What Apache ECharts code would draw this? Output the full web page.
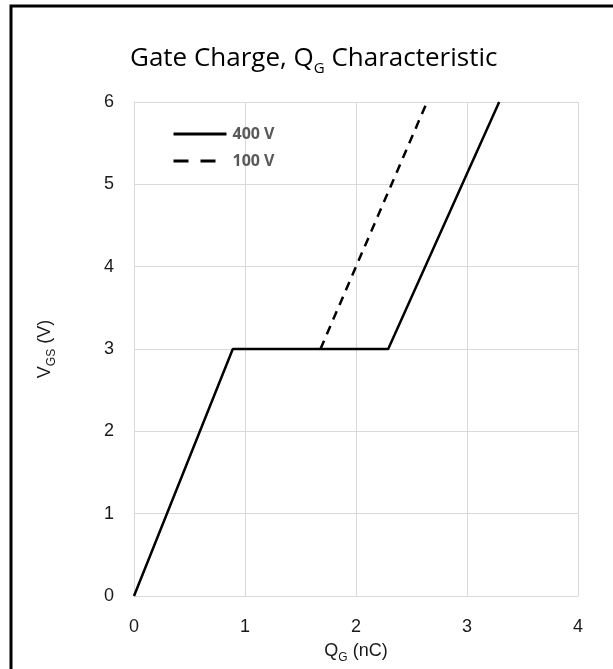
<!DOCTYPE html>
<html><head><meta charset="utf-8">
<script src="https://cdn.jsdelivr.net/npm/echarts@6/dist/echarts.min.js"></script>
<style>html,body{margin:0;padding:0;background:#fff}#c{width:613px;height:669px}</style>
</head><body><div id="c"></div>
<script>
const seriesNames = ['400 V', '100 V'];
const qg400 = [0, 0.89, 2.29, 3.29];
const vgs400 = [0, 3, 3, 6];
const qg100 = [1.68, 2.64];
const vgs100 = [3, 6];
const xTicks = [0, 1, 2, 3, 4];
const yTicks = [0, 1, 2, 3, 4, 5, 6];

const chart = echarts.init(document.getElementById('c'));
const FF = 'Liberation Sans, Arial, sans-serif';
const axisFont = {fontFamily: FF, fontSize: 18, color: '#1a1a1a'};
const nameRich = {
  a: {fontFamily: FF, fontSize: 18, color: '#1a1a1a'},
  s: {fontFamily: FF, fontSize: 12, color: '#1a1a1a', verticalAlign: 'bottom', padding: [0, 0, -4, 0]}
};
chart.setOption({
  animation: false,
  graphic: [{type: 'rect', shape: {x: 11, y: 6, width: 700, height: 700}, style: {fill: 'none', stroke: '#000', lineWidth: 3}}],
  title: {
    text: '{a|Gate Charge, Q}{s|G}{a| Characteristic}',
    left: 125, top: 41,
    textStyle: {rich: {
      a: {fontFamily: 'Open Sans, sans-serif', fontSize: 26, fontWeight: 'normal', color: '#000'},
      s: {fontFamily: 'Open Sans, sans-serif', fontSize: 15, fontWeight: 'normal', color: '#000', verticalAlign: 'bottom', padding: [0, 0, -4, 0]}
    }}
  },
  legend: {
    left: 167, top: 121, orient: 'vertical', itemWidth: 53, itemHeight: 14, itemGap: 11,
    data: [
      {name: seriesNames[0], lineStyle: {width: 3, type: 'solid'}},
      {name: seriesNames[1], lineStyle: {width: 3, type: [15, 12]}}
    ],
    itemStyle: {opacity: 0},
    textStyle: {fontFamily: 'Open Sans, sans-serif', fontSize: 16, fontWeight: 'bold', color: '#595959', padding: [0, 0, 0, 1]}
  },
  grid: {left: 134, right: 35, top: 102, bottom: 71},
  xAxis: {
    type: 'value', min: 0, max: 4, interval: 1,
    name: '{a|Q}{s|G}{a| (nC)}', nameLocation: 'middle', nameGap: 46,
    nameTextStyle: {rich: nameRich},
    axisLine: {show: true, lineStyle: {color: '#d9d9d9', width: 1}},
    axisTick: {show: false},
    axisLabel: Object.assign({margin: 22, formatter: v => String(v)}, axisFont),
    splitLine: {show: true, lineStyle: {color: '#d9d9d9', width: 1}}
  },
  yAxis: {
    type: 'value', min: 0, max: 6, interval: 1,
    name: '{a|V}{s|GS}{a| (V)}', nameLocation: 'middle', nameGap: 80, nameRotate: 90,
    nameTextStyle: {rich: nameRich},
    axisLine: {show: true, lineStyle: {color: '#d9d9d9', width: 1}},
    axisTick: {show: false},
    axisLabel: Object.assign({margin: 20}, axisFont),
    splitLine: {show: true, lineStyle: {color: '#d9d9d9', width: 1}}
  },
  series: [
    {name: seriesNames[0], type: 'line', symbol: 'none', data: qg400.map((x, i) => [x, vgs400[i]]),
     lineStyle: {color: '#000', width: 2.5}, itemStyle: {color: '#000'}},
    {name: seriesNames[1], type: 'line', symbol: 'none', data: qg100.map((x, i) => [x, vgs100[i]]),
     lineStyle: {color: '#000', width: 2.5, type: [9, 7]}, itemStyle: {color: '#000'}}
  ]
});
</script></body></html>
